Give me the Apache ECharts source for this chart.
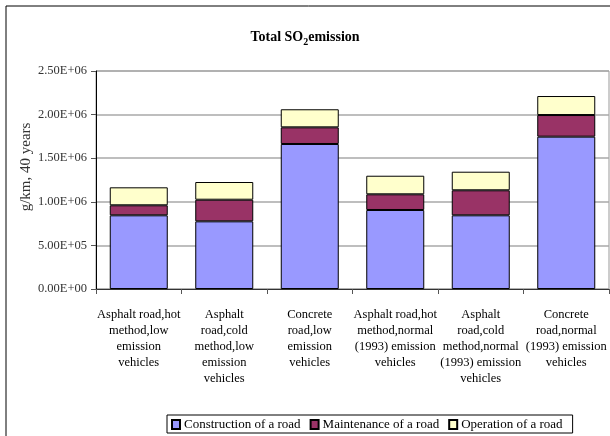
<!DOCTYPE html>
<html>
<head>
<meta charset="utf-8">
<script src="https://cdn.jsdelivr.net/npm/echarts@6/dist/echarts.min.js"></script>
<style>
  html, body { margin: 0; padding: 0; background: #fff; }
  #main { width: 610px; height: 436px; }
</style>
</head>
<body>
<div id="main"></div>
<script>
var categories = [
  'Asphalt road,hot\nmethod,low\nemission\nvehicles',
  'Asphalt\nroad,cold\nmethod,low\nemission\nvehicles',
  'Concrete\nroad,low\nemission\nvehicles',
  'Asphalt road,hot\nmethod,normal\n(1993) emission\nvehicles',
  'Asphalt\nroad,cold\nmethod,normal\n(1993) emission\nvehicles',
  'Concrete\nroad,normal\n(1993) emission\nvehicles'
];
var construction = [845000, 776000, 1663000, 906000, 845000, 1747000];
var maintenance = [115000, 248000, 191000, 180000, 287000, 248000];
var operation = [206000, 203000, 207000, 213000, 213000, 218000];

var serif = 'Liberation Serif';

function sci(v) {
  if (v === 0) return '0.00E+00';
  var e = Math.floor(Math.log10(Math.abs(v)));
  var m = v / Math.pow(10, e);
  return m.toFixed(2) + 'E' + (e < 0 ? '-' : '+') + String(Math.abs(e)).padStart(2, '0');
}

var chart = echarts.init(document.getElementById('main'));

function barSeries(name, data, color) {
  return {
    name: name,
    type: 'bar',
    stack: 'total',
    barWidth: 58,
    data: data,
    itemStyle: { color: color, borderColor: '#000', borderWidth: 1 }
  };
}

var option = {
  animation: false,
  title: {
    left: 'center',
    top: 23,
    text: '{a|Total SO}{s|2}{a|emission}',
    textStyle: {
      rich: {
        a: { fontFamily: serif, fontWeight: 'bold', fontSize: 14, color: '#000' },
        s: { fontFamily: serif, fontWeight: 'bold', fontSize: 10, color: '#000', padding: [9, 0, 0, 0] }
      }
    }
  },
  legend: {
    left: 167,
    top: 415,
    padding: [3, 10, 2, 4],
    itemGap: 9,
    itemWidth: 8,
    itemHeight: 9,
    icon: 'rect',
    borderColor: '#000',
    borderWidth: 1,
    textStyle: { fontFamily: serif, fontSize: 13, color: '#000', padding: [0, 0, 0, -1] },
    data: ['Construction of a road', 'Maintenance of a road', 'Operation of a road']
  },
  graphic: [{
    type: 'rect',
    shape: { x: 6, y: 6, width: 800, height: 600 },
    style: { fill: 'none', stroke: '#000', lineWidth: 1 },
    silent: true
  }],
  grid: {
    left: 96,
    right: 1,
    top: 71,
    bottom: 147,
    show: true,
    borderColor: '#999',
    borderWidth: 1
  },
  xAxis: {
    type: 'category',
    data: categories,
    axisLine: { lineStyle: { color: '#333', width: 1 } },
    axisTick: { show: true, length: 5, lineStyle: { color: '#555' } },
    axisLabel: {
      interval: 0,
      margin: 18,
      fontFamily: serif,
      fontSize: 12.5,
      lineHeight: 16,
      color: '#000'
    }
  },
  yAxis: {
    type: 'value',
    min: 0,
    max: 2500000,
    interval: 500000,
    name: 'g/km, 40 years',
    nameLocation: 'middle',
    nameRotate: 90,
    nameGap: 62,
    nameMoveOverlap: false,
    nameTextStyle: { fontFamily: serif, fontSize: 15, color: '#333', padding: [0, 0, 0, 26] },
    axisLine: { show: true, lineStyle: { color: '#000' } },
    axisTick: { show: true, length: 5, lineStyle: { color: '#555' } },
    axisLabel: {
      margin: 9,
      fontFamily: serif,
      fontSize: 12.5,
      color: '#333',
      formatter: sci
    },
    splitLine: { lineStyle: { color: '#a8a8a8', width: 1.5 } }
  },
  series: [
    barSeries('Construction of a road', construction, '#9999FF'),
    barSeries('Maintenance of a road', maintenance, '#993366'),
    barSeries('Operation of a road', operation, '#FFFFCC')
  ]
};

chart.setOption(option);
</script>
</body>
</html>
